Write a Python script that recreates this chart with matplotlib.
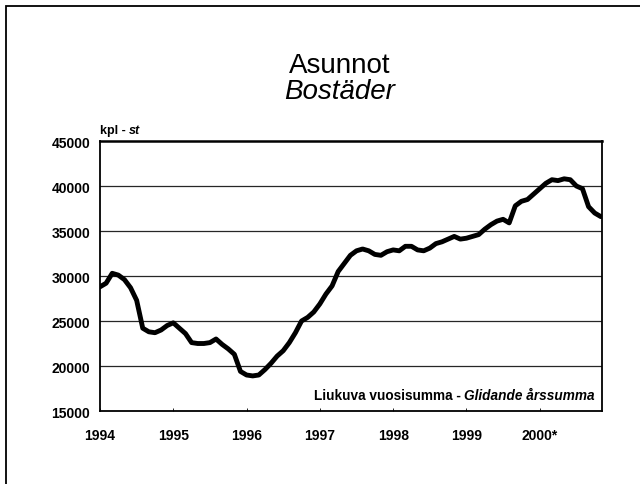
import numpy as np
import matplotlib.pyplot as plt
from matplotlib.patches import Rectangle

# Monthly moving annual sum, Jan 1994 - Nov 2000
start_year = 1994
values = [
    28800, 29200, 30300, 30100, 29600, 28700, 27300, 24200, 23800, 23700, 24000, 24500,  # 1994
    24800, 24200, 23600, 22600, 22500, 22500, 22600, 23000, 22400, 21900, 21300, 19400,  # 1995
    19000, 18900, 19000, 19600, 20300, 21100, 21700, 22600, 23700, 25000, 25400, 26000,  # 1996
    26900, 28000, 28900, 30500, 31400, 32300, 32800, 33000, 32800, 32400, 32300, 32700,  # 1997
    32900, 32800, 33300, 33300, 32900, 32800, 33100, 33600, 33800, 34100, 34400, 34100,  # 1998
    34200, 34400, 34600, 35200, 35700, 36100, 36300, 35900, 37800, 38300, 38500, 39100,  # 1999
    39700, 40300, 40700, 40600, 40800, 40700, 40000, 39700, 37700, 37000, 36600,         # 2000
]
year_ticks = [1994, 1995, 1996, 1997, 1998, 1999, 2000]
year_labels = ["1994", "1995", "1996", "1997", "1998", "1999", "2000*"]
y_ticks = [15000, 20000, 25000, 30000, 35000, 40000, 45000]

x = start_year + np.arange(len(values)) / 12.0

plt.rcParams['font.family'] = ['Liberation Sans', 'DejaVu Sans']

fig = plt.figure(figsize=(6.4, 4.85), dpi=100)
ax = fig.add_axes([0.15625, 0.1505, 0.7844, 0.5567])

# Outer frame (runs off the right and bottom edges)
fig.patches.append(Rectangle((6 / 640, -0.05), 1.2, 1 - 7 / 485 + 0.05,
                             transform=fig.transFigure, fill=False,
                             edgecolor='black', linewidth=1.3))

# gridlines
for yv in y_ticks[1:-1]:
    ax.axhline(yv, color='0.15', linewidth=0.9, zorder=1)

ax.plot(x, values, color='black', linewidth=3.5, solid_joinstyle='round',
        solid_capstyle='round', zorder=3)

ax.set_xlim(1994, 2000.85)
ax.set_ylim(15000, 45000)
ax.set_yticks(y_ticks)
ax.set_yticklabels([str(v) for v in y_ticks], fontweight='bold', fontsize=10)
ax.set_xticks(year_ticks)
ax.set_xticklabels(year_labels, fontweight='bold', fontsize=10)
ax.tick_params(axis='y', length=0, pad=7)
ax.tick_params(axis='x', length=2, width=0.6, direction='in', pad=12)

for side in ['left', 'bottom', 'right']:
    ax.spines[side].set_linewidth(1.3)
ax.spines['top'].set_linewidth(1.8)

# unit label above the axes
unit = ax.annotate("kpl - ", xy=(0.0, 1.018), xycoords='axes fraction',
                   fontsize=9, fontweight='bold', ha='left', va='bottom')
ax.annotate("st", xy=(1, 0), xycoords=unit, fontsize=9, fontweight='bold',
            style='italic', ha='left', va='bottom')

# note inside the axes, right aligned
note = ax.annotate("Glidande årssumma", xy=(0.986, 0.035), xycoords='axes fraction',
                   fontsize=9.8, fontweight='bold', style='italic',
                   ha='right', va='bottom')
ax.annotate("Liukuva vuosisumma - ", xy=(0, 0), xycoords=note,
            fontsize=9.8, fontweight='bold', ha='right', va='bottom')

fig.text(0.531, 1 - 66 / 485, "Asunnot", fontsize=20, ha='center', va='center')
fig.text(0.531, 1 - 92 / 485, "Bostäder", fontsize=20, style='italic',
         ha='center', va='center')

fig.savefig("out.png", dpi=100)
